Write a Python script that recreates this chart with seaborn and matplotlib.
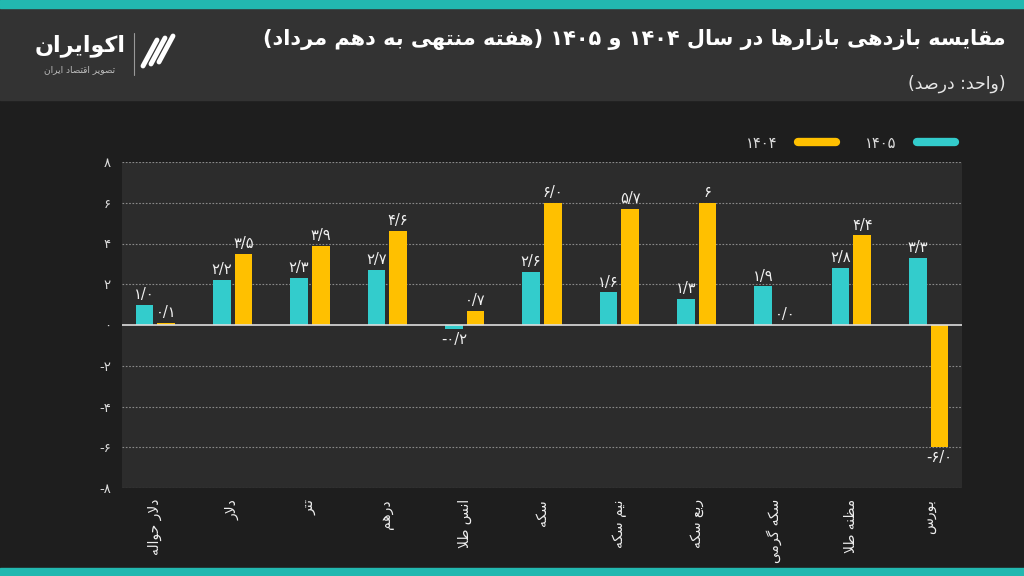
import re
import unicodedata
import pandas as pd
import matplotlib
matplotlib.use("Agg")
import matplotlib.pyplot as plt
from matplotlib.lines import Line2D
from matplotlib.patches import Rectangle
import seaborn as sns

# data (percent)
markets = ["دلار حواله", "دلار", "تتر", "درهم", "انس طلا", "سکه",
           "نیم سکه", "ربع سکه", "سکه گرمی", "مظنه طلا", "بورس"]
ret_1405 = [1.0, 2.2, 2.3, 2.7, -0.2, 2.6, 1.6, 1.3, 1.9, 2.8, 3.3]
ret_1404 = [0.1, 3.5, 3.9, 4.6, 0.7, 6.0, 5.7, 6.0, 0.0, 4.4, -6.0]
lbl_1405 = ["1.0", "2.2", "2.3", "2.7", "-0.2", "2.6", "1.6", "1.3", "1.9", "2.8", "3.3"]
lbl_1404 = ["0.1", "3.5", "3.9", "4.6", "0.7", "6.0", "5.7", "6", "0.0", "4.4", "-6.0"]
years = ["1405", "1404"]
yticks = [-8, -6, -4, -2, 0, 2, 4, 6, 8]

title = "مقایسه بازدهی بازارها در سال 1404 و 1405 (هفته منتهی به دهم مرداد)"
subtitle = "(واحد: درصد)"

TEAL = "#33cccc"
YELLOW = "#ffc000"
STRIPE = "#22b8b0"

FA_DIGITS = str.maketrans("0123456789.", "۰۱۲۳۴۵۶۷۸۹/")
NON_JOIN = set("اآأإدذرزژوؤة")


def fa(s):
    return str(s).translate(FA_DIGITS)


def is_letter(c):
    return ("\u0626" <= c <= "\u064A" and c not in "ـ") or c in "پچژکگیآ"


def form(c, f):
    try:
        return unicodedata.lookup(unicodedata.name(c) + " " + f + " FORM")
    except KeyError:
        return c


def rtl(text):
    # crude arabic shaping + visual reordering, matplotlib does neither
    text = fa(text)
    out = []
    i = 0
    while i < len(text):
        c = text[i]
        prev = text[i - 1] if i > 0 else " "
        nxt = text[i + 1] if i + 1 < len(text) else " "
        joins_prev = is_letter(c) and is_letter(prev) and prev not in NON_JOIN
        if c == "ل" and nxt == "ا":
            out.append("\uFEFC" if joins_prev else "\uFEFB")
            i += 2
            continue
        if not is_letter(c):
            out.append(c)
            i += 1
            continue
        joins_next = c not in NON_JOIN and is_letter(nxt)
        if joins_prev and joins_next:
            out.append(form(c, "MEDIAL"))
        elif joins_prev:
            out.append(form(c, "FINAL"))
        elif joins_next:
            out.append(form(c, "INITIAL"))
        else:
            out.append(form(c, "ISOLATED"))
        i += 1
    vis = "".join(out)[::-1]
    vis = re.sub(r"[-۰-۹/]+", lambda m: m.group()[::-1], vis)
    vis = vis.translate(str.maketrans("()", ")("))
    return vis


df = pd.DataFrame({
    "market": markets * 2,
    "year": ["1405"] * len(markets) + ["1404"] * len(markets),
    "value": ret_1405 + ret_1404,
})

sns.set_style("dark")
plt.rcParams["font.family"] = ["DejaVu Sans"]

fig = plt.figure(figsize=(10.24, 5.76), dpi=100)
fig.patch.set_facecolor("#1e1e1e")

# header band and teal stripes
fig.patches.append(Rectangle((0, 1 - 100 / 576), 1, 92 / 576, transform=fig.transFigure,
                             color="#333333", zorder=0))
fig.patches.append(Rectangle((0, 1 - 8 / 576), 1, 8 / 576, transform=fig.transFigure,
                             color=STRIPE, zorder=0))
fig.patches.append(Rectangle((0, 0), 1, 8 / 576, transform=fig.transFigure,
                             color=STRIPE, zorder=0))

fig.text(0.982, 1 - 40 / 576, rtl(title), ha="right", va="center", color="white",
         fontsize=15, fontweight="bold")
fig.text(0.982, 1 - 84 / 576, rtl(subtitle), ha="right", va="center", color="#e6e6e6",
         fontsize=12.5)

# logo
fig.text(0.078, 1 - 46 / 576, rtl("اکوایران"), ha="center", va="center", color="white",
         fontsize=16, fontweight="bold")
fig.text(0.078, 1 - 70 / 576, rtl("تصویر اقتصاد ایران"), ha="center", va="center",
         color="#bbbbbb", fontsize=6.5)
fig.add_artist(Line2D([134 / 1024, 134 / 1024], [1 - 33 / 576, 1 - 75 / 576],
                      color="#999999", lw=0.8))
for k in range(3):
    x0 = (143 + k * 8) / 1024
    fig.add_artist(Line2D([x0, x0 + 14 / 1024], [1 - (66 - k * 2) / 576, 1 - (40 - k * 2) / 576],
                          color="white", lw=3.5, solid_capstyle="round"))

ax = fig.add_axes([122 / 1024, 1 - 488 / 576, 840 / 1024, 326 / 576])
ax.set_facecolor("#2c2c2c")

sns.barplot(data=df, x="market", y="value", hue="year", hue_order=years, order=markets,
            palette=[TEAL, YELLOW], saturation=1, width=0.56, gap=0.18, linewidth=0, ax=ax,
            legend=False, errorbar=None, zorder=3)

ax.bar_label(ax.containers[0], labels=[fa(s) for s in lbl_1405], padding=2,
             color="#f0f0f0", fontsize=10.5)
ax.bar_label(ax.containers[1], labels=[fa(s) for s in lbl_1404], padding=2,
             color="#f0f0f0", fontsize=10.5)

ax.set_ylim(-8, 8)
ax.set_xlim(-0.43, len(markets) - 0.57)
ax.set_yticks(yticks)
ax.set_yticklabels([fa(v) for v in yticks], color="#dddddd", fontsize=9.5)
ax.set_xticks(range(len(markets)))
ax.set_xticklabels([rtl(m) for m in markets], rotation=90, color="#eeeeee", fontsize=10,
                   va="top", ha="center")
ax.tick_params(axis="both", length=0, pad=8)
ax.set_xlabel("")
ax.set_ylabel("")
for v in yticks:
    if v != 0:
        ax.axhline(v, color="#8a8a8a", lw=0.8, ls=(0, (1.5, 1.5)), zorder=1)
ax.axhline(0, color="#dddddd", lw=1.2, zorder=4)
for s in ax.spines.values():
    s.set_visible(False)
ax.grid(False)

handles = [Line2D([], [], color=YELLOW, lw=6, solid_capstyle="round"),
           Line2D([], [], color=TEAL, lw=6, solid_capstyle="round")]
fig.legend(handles, [fa("1404"), fa("1405")], loc="center right",
           bbox_to_anchor=(0.945, 1 - 143 / 576), ncol=2, markerfirst=False, frameon=False,
           handlelength=2.6, columnspacing=2.0, handletextpad=1.4, labelcolor="#dddddd",
           fontsize=10.5)

fig.savefig("out.png", dpi=100, facecolor=fig.get_facecolor())
